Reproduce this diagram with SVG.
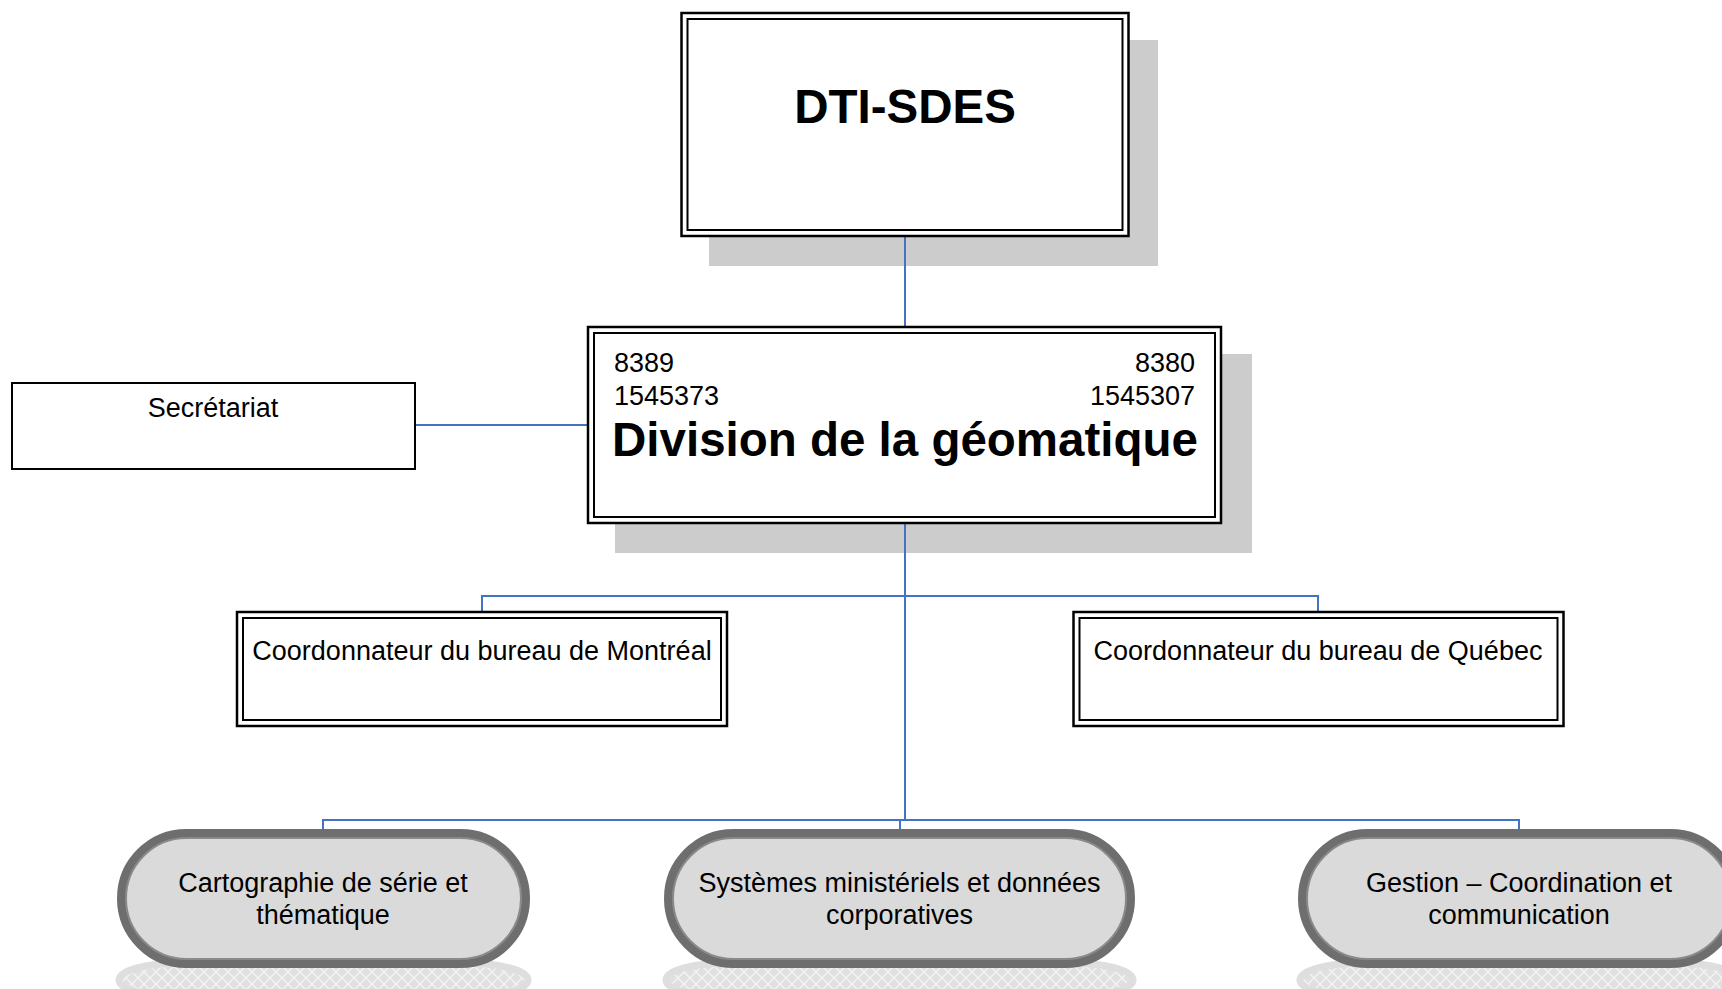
<svg xmlns="http://www.w3.org/2000/svg" width="1722" height="989" viewBox="0 0 1722 989">
  <style>
    text { font-family: "Liberation Sans", Arial, sans-serif; fill: #000; }
    .lbl { font-size: 27px; }
    .title { font-size: 47.5px; font-weight: bold; }
    .shadow { fill: #cccccc; }
    .outer { fill: #ffffff; stroke: #000; stroke-width: 2.5; }
    .inner { fill: none; stroke: #000; stroke-width: 2; }
    .single { fill: #ffffff; stroke: #000; stroke-width: 2; }
    .pill { fill: #dadada; stroke: #6e6e6e; stroke-width: 9; }
    .pill-edge { fill: none; stroke: #8a8a8a; stroke-width: 2; }
    .mirror { fill: url(#hatch); stroke: #dedede; stroke-width: 7; }
    .conn { fill: none; stroke: #4472c4; stroke-width: 2; }
  </style>
  <defs>
    <pattern id="hatch" width="12" height="12" patternUnits="userSpaceOnUse">
      <rect width="12" height="12" fill="#e0e0e0"/>
      <path d="M0 0 L12 12 M12 0 L0 12" stroke="#f3f3f3" stroke-width="1.5"/>
    </pattern>
  </defs>

  <rect width="1722" height="989" fill="#ffffff"/>

  <!-- drop shadows sit beneath the connector lines -->
  <g id="shadows">
    <rect class="shadow" x="709" y="40" width="449" height="226"/>
    <rect class="shadow" x="615" y="354" width="637" height="199"/>
  </g>

  <!-- connectors -->
  <g id="connectors">
    <line class="conn" x1="905" y1="236" x2="905" y2="327"/>
    <line class="conn" x1="415" y1="425" x2="588" y2="425"/>
    <line class="conn" x1="905" y1="523" x2="905" y2="820"/>
    <polyline class="conn" points="482,612 482,596 1318,596 1318,612"/>
    <polyline class="conn" points="323,831 323,820 1519,820 1519,831"/>
    <line class="conn" x1="900" y1="820" x2="900" y2="831"/>
  </g>

  <g id="dti-sdes">
    <rect class="outer" x="681.5" y="13" width="447" height="223"/>
    <rect class="inner" x="687.5" y="19" width="435" height="211"/>
    <text class="title" x="905" y="123" text-anchor="middle">DTI-SDES</text>
  </g>

  <g id="division">
    <rect class="outer" x="588" y="327" width="633" height="196"/>
    <rect class="inner" x="594" y="333" width="621" height="184"/>
    <text class="lbl" x="614" y="372">8389</text>
    <text class="lbl" x="614" y="405">1545373</text>
    <text class="lbl" x="1195" y="372" text-anchor="end">8380</text>
    <text class="lbl" x="1195" y="405" text-anchor="end">1545307</text>
    <text class="title" x="905" y="456" text-anchor="middle">Division de la géomatique</text>
  </g>

  <g id="secretariat">
    <rect class="single" x="12" y="383" width="403" height="86"/>
    <text class="lbl" x="213" y="417" text-anchor="middle">Secrétariat</text>
  </g>

  <g id="bureau-montreal">
    <rect class="outer" x="237" y="612" width="490" height="114"/>
    <rect class="inner" x="243" y="618" width="478" height="102"/>
    <text class="lbl" x="482" y="660" text-anchor="middle">Coordonnateur du bureau de Montréal</text>
  </g>

  <g id="bureau-quebec">
    <rect class="outer" x="1073.5" y="612" width="490" height="114"/>
    <rect class="inner" x="1079.5" y="618" width="478" height="102"/>
    <text class="lbl" x="1318" y="660" text-anchor="middle">Coordonnateur du bureau de Québec</text>
  </g>

  <g id="cartographie">
    <rect class="mirror" x="119" y="963" width="409" height="34" rx="62" ry="17"/>
    <rect class="pill" x="121.5" y="833.5" width="404" height="130" rx="65"/>
    <rect class="pill-edge" x="126" y="838" width="395" height="121" rx="60.5"/>
    <text class="lbl" x="323" y="892" text-anchor="middle">Cartographie de série et</text>
    <text class="lbl" x="323" y="924" text-anchor="middle">thématique</text>
  </g>

  <g id="systemes">
    <rect class="mirror" x="666" y="963" width="467" height="34" rx="62" ry="17"/>
    <rect class="pill" x="668.5" y="833.5" width="462" height="130" rx="65"/>
    <rect class="pill-edge" x="673" y="838" width="453" height="121" rx="60.5"/>
    <text class="lbl" x="899.5" y="892" text-anchor="middle">Systèmes ministériels et données</text>
    <text class="lbl" x="899.5" y="924" text-anchor="middle">corporatives</text>
  </g>

  <g id="gestion">
    <rect class="mirror" x="1300" y="963" width="438" height="34" rx="62" ry="17"/>
    <rect class="pill" x="1302.5" y="833.5" width="433" height="130" rx="65"/>
    <rect class="pill-edge" x="1307" y="838" width="424" height="121" rx="60.5"/>
    <text class="lbl" x="1519" y="892" text-anchor="middle">Gestion – Coordination et</text>
    <text class="lbl" x="1519" y="924" text-anchor="middle">communication</text>
  </g>
</svg>
